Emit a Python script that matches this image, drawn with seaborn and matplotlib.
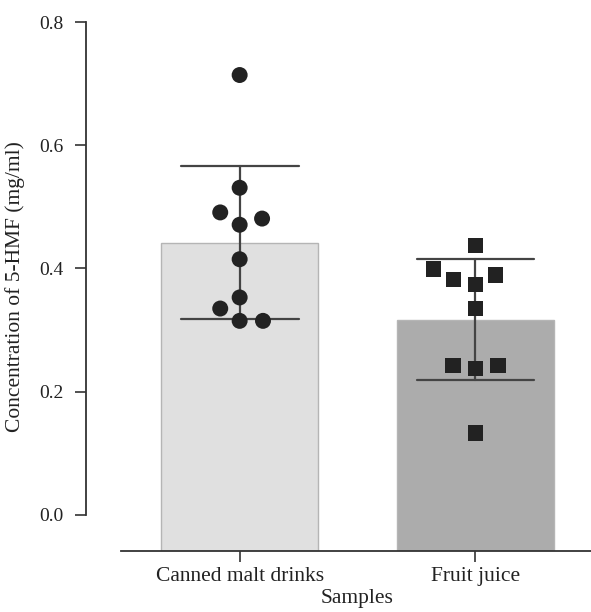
import numpy as np
import pandas as pd
import matplotlib
matplotlib.use("Agg")
import matplotlib.pyplot as plt
import seaborn as sns

categories = ["Canned malt drinks", "Fruit juice"]
canned = [0.714, 0.531, 0.491, 0.481, 0.471, 0.415, 0.353, 0.335, 0.315, 0.315]
juice = [0.437, 0.399, 0.3825, 0.374, 0.3895, 0.335, 0.242, 0.238, 0.242, 0.133]
yticks = [0.0, 0.2, 0.4, 0.6, 0.8]
bar_colors = ["#e0e0e0", "#acacac"]

df = pd.DataFrame({
    "Samples": [categories[0]] * len(canned) + [categories[1]] * len(juice),
    "value": canned + juice,
})

sns.set_style("ticks")
plt.rcParams["font.family"] = ["Liberation Serif", "DejaVu Serif"]

fig = plt.figure(figsize=(5.91, 6.12), dpi=100)
ax = fig.add_axes([0.204, 0.1002, 0.8, 0.964 - 0.1002])

ybot = -0.058
sns.barplot(data=df, x="Samples", y="value", order=categories, hue="Samples",
            palette=bar_colors, errorbar="sd", capsize=0.5, width=0.667,
            err_kws={"color": "#444444", "linewidth": 1.6}, legend=False,
            edgecolor="#b5b5b5", linewidth=1.0, ax=ax)
for p in ax.patches:
    top = p.get_height() + p.get_y()
    p.set_y(ybot)
    p.set_height(top - ybot)

n_before = len(ax.collections)
markers = ["o", "s"]
for cat, m in zip(categories, markers):
    sub = df[df["Samples"] == cat]
    sns.swarmplot(data=sub, x="Samples", y="value", order=categories, marker=m,
                  color="#222222", size=11.5 if m == "o" else 11.0, ax=ax, zorder=5)
# invisible edge widens the swarm spacing
for coll in ax.collections[n_before:]:
    coll.set_edgecolor("none")
    coll.set_linewidth(4.5)

ax.set_xlim(-0.505, 1.5)
ax.set_ylim(ybot, 0.8)
ax.set_yticks(yticks)
ax.set_yticklabels([f"{v:.1f}" for v in yticks])
sns.despine(ax=ax)
ax.spines["left"].set_position(("outward", 25))
ax.spines["left"].set_bounds(0, 0.8)
for s in ["left", "bottom"]:
    ax.spines[s].set_color("#333333")
    ax.spines[s].set_linewidth(1.3)
ax.tick_params(axis="both", length=8, width=1.2, color="#333333",
               labelcolor="#222222")
ax.tick_params(axis="y", labelsize=14, pad=8)
ax.tick_params(axis="x", labelsize=15.5, pad=4)
ax.set_xlabel("Samples", fontsize=15.5, color="#222222", labelpad=2)
ax.set_ylabel("Concentration of 5-HMF (mg/ml)", fontsize=15.5, color="#222222", labelpad=10)

fig.savefig("out.png", dpi=100)
